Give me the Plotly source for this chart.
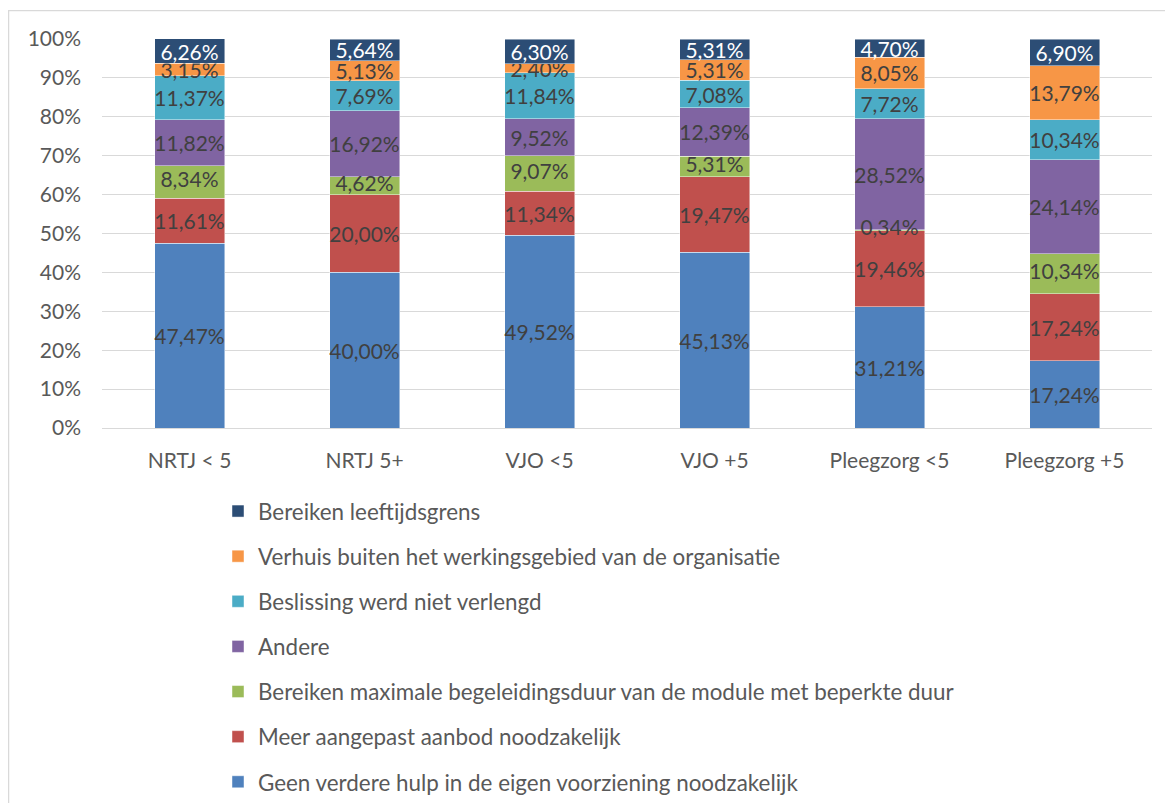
import plotly.graph_objects as go

categories = ["NRTJ < 5", "NRTJ 5+", "VJO <5", "VJO +5", "Pleegzorg <5", "Pleegzorg +5"]

geen_verdere_hulp = [47.47, 40.00, 49.52, 45.13, 31.21, 17.24]
meer_aangepast = [11.61, 20.00, 11.34, 19.47, 19.46, 17.24]
max_begeleidingsduur = [8.34, 4.62, 9.07, 5.31, 0.34, 10.34]
andere = [11.82, 16.92, 9.52, 12.39, 28.52, 24.14]
niet_verlengd = [11.37, 7.69, 11.84, 7.08, 7.72, 10.34]
verhuis = [3.15, 5.13, 2.40, 5.31, 8.05, 13.79]
leeftijdsgrens = [6.26, 5.64, 6.30, 5.31, 4.70, 6.90]

y_ticks = [0, 10, 20, 30, 40, 50, 60, 70, 80, 90, 100]
y_tick_labels = [f"{t}%" for t in y_ticks]

series = [
    ("Geen verdere hulp in de eigen voorziening noodzakelijk", geen_verdere_hulp, "#4F81BD", "#404040"),
    ("Meer aangepast aanbod noodzakelijk", meer_aangepast, "#C0504D", "#404040"),
    ("Bereiken maximale begeleidingsduur van de module met beperkte duur", max_begeleidingsduur, "#9BBB59", "#404040"),
    ("Andere", andere, "#8064A2", "#404040"),
    ("Beslissing werd niet verlengd", niet_verlengd, "#4BACC6", "#404040"),
    ("Verhuis buiten het werkingsgebied van de organisatie", verhuis, "#F79646", "#404040"),
    ("Bereiken leeftijdsgrens", leeftijdsgrens, "#2C4D75", "#FFFFFF"),
]

FONT = "Lato"


def fmt(v):
    return f"{v:.2f}".replace(".", ",") + "%"


fig = go.Figure()
base = [0.0] * len(categories)
overlay = []
for i, (name, vals, color, tcolor) in enumerate(series):
    on_top = (i == 2)  # green labels drawn above later segments (tiny 0,34% segment)
    fig.add_trace(go.Bar(
        name=name,
        x=categories,
        y=vals,
        marker=dict(color=color, line=dict(color="rgba(255,255,255,0.6)", width=0.75)),
        text=None if on_top else [fmt(v) for v in vals],
        textposition="inside",
        insidetextanchor="middle",
        textangle=0,
        constraintext="none",
        textfont=dict(family=FONT, size=21, color=tcolor),
        legendgroup=f"g{i}",
        legendrank=100 - i,
        hoverinfo="skip",
    ))
    if on_top:
        overlay.append((categories, [b + v / 2 for b, v in zip(base, vals)], [fmt(v) for v in vals], tcolor))
    base = [b + v for b, v in zip(base, vals)]

for xs, ys, texts, tcolor in overlay:
    fig.add_trace(go.Scatter(
        x=xs, y=ys, text=texts, mode="text",
        textfont=dict(family=FONT, size=21, color=tcolor),
        showlegend=False, hoverinfo="skip",
    ))

# The page body has an 8px margin; figure pixel = screen pixel - 8
OFF = 8
W, H = 1157, 795
L, T = 102 - OFF, 39 - OFF
R = W - (1152 - OFF)
B = H - (428 - OFF)
pw, ph = W - L - R, H - T - B


def px_x(p):
    return (p - OFF - L) / pw


def px_y(p):
    return (H - B - (p - OFF)) / ph


fig.add_shape(type="rect", xref="paper", yref="paper",
              x0=px_x(8.6), x1=px_x(1300), y0=px_y(10.6), y1=px_y(900),
              line=dict(color="#D9D9D9", width=1.3), fillcolor="rgba(0,0,0,0)", layer="below")

fig.update_layout(
    width=W, height=H,
    margin=dict(l=L, r=R, t=T, b=B, autoexpand=False),
    barmode="stack",
    bargap=0.6,
    plot_bgcolor="white",
    paper_bgcolor="white",
    font=dict(family=FONT, size=20, color="#595959"),
    showlegend=True,
    legend=dict(
        traceorder="grouped",
        tracegroupgap=13,
        orientation="v",
        x=px_x(218), xanchor="left",
        y=px_y(490), yanchor="top",
        font=dict(family=FONT, size=22.4, color="#595959"),
        itemclick=False,
        bgcolor="rgba(0,0,0,0)",
    ),
    xaxis=dict(
        showgrid=False,
        showline=False,
        ticks="",
        tickfont=dict(family=FONT, size=21, color="#595959"),
        ticklabelstandoff=18,
    ),
    yaxis=dict(
        range=[0, 100],
        tickvals=y_ticks,
        ticktext=y_tick_labels,
        showgrid=True,
        gridcolor="#D9D9D9",
        gridwidth=1.3,
        zeroline=True,
        zerolinecolor="#D9D9D9",
        zerolinewidth=1.3,
        showline=False,
        ticks="",
        tickfont=dict(family=FONT, size=21, color="#595959"),
        ticklabelstandoff=20,
    ),
)

fig.write_html("out.html")
